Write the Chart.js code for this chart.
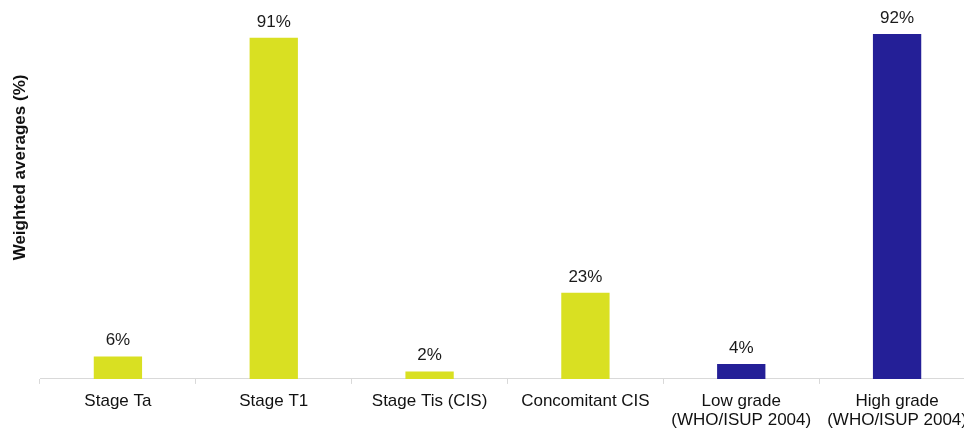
<!DOCTYPE html>
<html>
<head>
<meta charset="utf-8">
<script src="https://cdn.jsdelivr.net/npm/chart.js@4.4.1/dist/chart.umd.min.js"></script>
<style>
    html, body { margin: 0; padding: 0; background: #fff; overflow: hidden; }
    #wrap { width: 980px; height: 430px; position: relative; }
</style>
</head>
<body>
<div id="wrap"><canvas id="myChart"></canvas></div>
<script>
const categories = [
    'Stage Ta',
    'Stage T1',
    'Stage Tis (CIS)',
    'Concomitant CIS',
    ['Low grade', '(WHO/ISUP 2004)'],
    ['High grade', '(WHO/ISUP 2004)']
];
const values = [6, 91, 2, 23, 4, 92];
const barColors = ['#d9e022', '#d9e022', '#d9e022', '#d9e022', '#241f97', '#241f97'];
const yTitle = 'Weighted averages (%)';

const FONT = '"Liberation Sans", Arial, sans-serif';

// подписи над столбцами
const valueLabels = {
    id: 'valueLabels',
    afterDatasetsDraw(chart) {
        const c = chart.ctx;
        const meta = chart.getDatasetMeta(0);
        c.save();
        c.font = '17px ' + FONT;
        c.fillStyle = '#1a1a1a';
        c.textAlign = 'center';
        c.textBaseline = 'alphabetic';
        meta.data.forEach((bar, i) => {
            c.fillText(values[i] + '%', bar.x, bar.y - 11);
        });
        c.restore();
    }
};

// заголовок оси Y
const yAxisTitle = {
    id: 'yAxisTitle',
    afterDraw(chart) {
        const c = chart.ctx;
        const area = chart.chartArea;
        c.save();
        c.translate(20, area.top + (area.bottom - area.top) / 2 - 24);
        c.rotate(-Math.PI / 2);
        c.font = 'bold 17px ' + FONT;
        c.fillStyle = '#111';
        c.textAlign = 'center';
        c.textBaseline = 'middle';
        c.fillText(yTitle, 0, 0);
        c.restore();
    }
};

const ctx = document.getElementById('myChart').getContext('2d');
const chart = new Chart(ctx, {
    type: 'bar',
    data: {
        labels: categories,
        datasets: [{
            data: values,
            backgroundColor: barColors,
            borderWidth: 0,
            barPercentage: 0.62,
            categoryPercentage: 0.5
        }]
    },
    options: {
        responsive: true,
        maintainAspectRatio: false,
        animation: false,
        layout: { padding: { left: 40, right: 5, top: 4, bottom: -8 } },
        plugins: {
            legend: { display: false },
            tooltip: { enabled: false }
        },
        scales: {
            x: {
                grid: {
                    display: true,
                    offset: true,
                    drawOnChartArea: false,
                    drawTicks: true,
                    tickLength: 5,
                    color: '#d9d9d9'
                },
                border: { display: true, color: '#d9d9d9', width: 1 },
                ticks: {
                    color: '#111',
                    padding: 8,
                    maxRotation: 0,
                    autoSkip: false,
                    font: { family: FONT, size: 17, lineHeight: 1.12 }
                }
            },
            y: {
                display: false,
                min: 0,
                max: 100
            }
        }
    },
    plugins: [valueLabels, yAxisTitle]
});
</script>
</body>
</html>
